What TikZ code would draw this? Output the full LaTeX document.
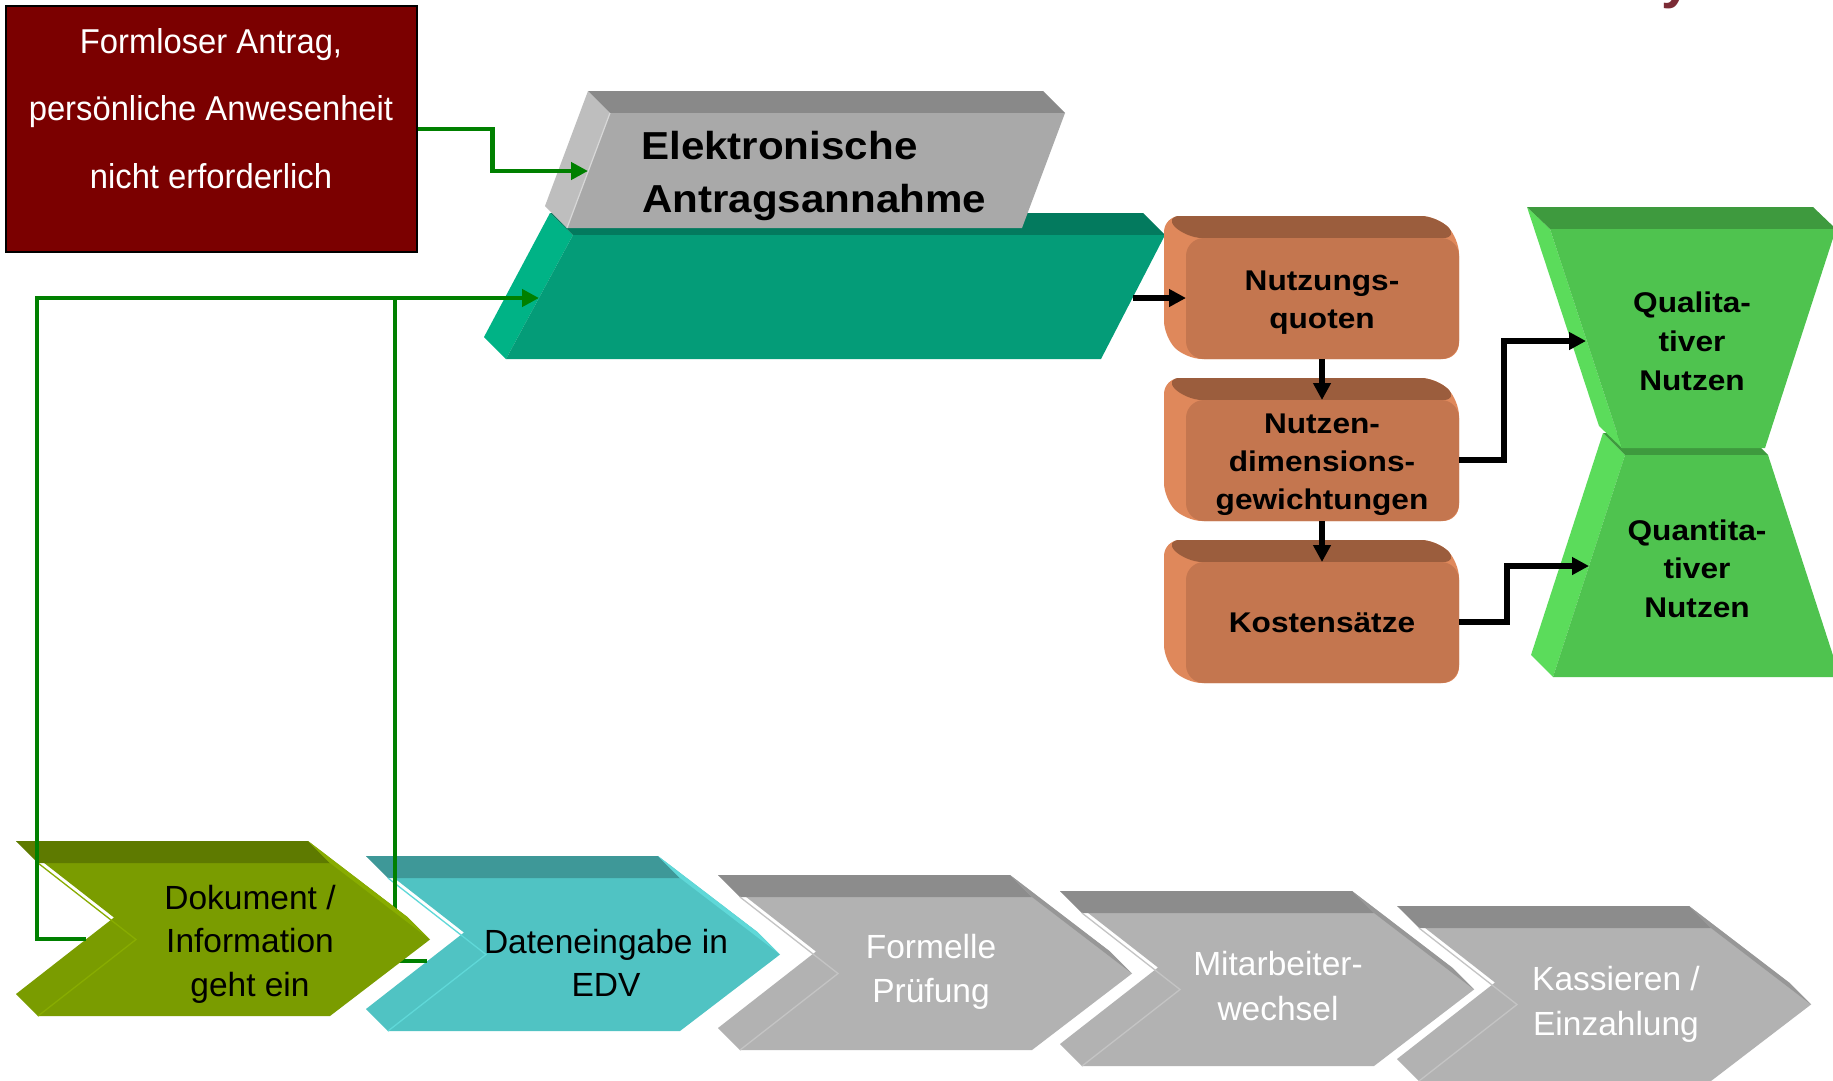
\documentclass[tikz,border=0pt]{standalone}
\usepackage{fontspec}
\setmainfont{Liberation Sans}
\newfontfamily\boxfont[FakeStretch=0.95]{Liberation Sans}
\newfontfamily\headfont[FakeStretch=1.08]{Liberation Sans Bold}
\newfontfamily\cellfont[FakeStretch=1.11]{Liberation Sans Bold}
\newfontfamily\titlefont{Liberation Sans Bold}
\usetikzlibrary{arrows.meta}

\definecolor{boxred}{HTML}{7B0000}
\definecolor{conngreen}{HTML}{008000}
\definecolor{tealtop}{HTML}{037A5E}
\definecolor{tealfront}{HTML}{049C78}
\definecolor{tealside}{HTML}{00B386}
\definecolor{greytop}{HTML}{898989}
\definecolor{greyfront}{HTML}{A9A9A9}
\definecolor{greyside}{HTML}{BEBEBE}
\definecolor{ortop}{HTML}{9B5D3D}
\definecolor{orfront}{HTML}{C4764F}
\definecolor{orside}{HTML}{DF885B}
\definecolor{grtop}{HTML}{3E9A3E}
\definecolor{grfront}{HTML}{4FC34F}
\definecolor{grside}{HTML}{5BDC5B}
\definecolor{olvtop}{HTML}{5E7A00}
\definecolor{olvfront}{HTML}{7A9C00}
\definecolor{olvedge}{HTML}{88AC00}
\definecolor{cyntop}{HTML}{3E9898}
\definecolor{cynfront}{HTML}{50C3C3}
\definecolor{cynedge}{HTML}{5FD8D8}
\definecolor{stptop}{HTML}{8C8C8C}
\definecolor{stpfront}{HTML}{B2B2B2}
\definecolor{stpedge}{HTML}{C4C4C4}
\definecolor{stpslope}{HTML}{979797}
\definecolor{titlered}{HTML}{7B2B35}

% process step chevron: front face top-left corner at (#1,#2);
% colours: top face, front face, notch edge, upper right slope
\newcommand\chevshape[6]{%
  \begin{scope}[shift={(#1,#2)}]
    \fill[#4] (-22,-22) -- (270,-22) -- (370,54.5) -- (392,76.5) -- (292,153)
              -- (0,153) -- (-22,131) -- (76,54.5) -- cycle;
    \fill[#3] (-22,-22) -- (270,-22) -- (292,0) -- (0,0) -- cycle;
    \fill[#6] (270,-22) -- (370,54.5) -- (392,76.5) -- (292,0) -- cycle;
    \draw[#5, line width=1.3pt] (0,0) -- (98,76.5) -- (0,153);
  \end{scope}}

% rounded 3D block: front face top-left corner at (#1,#2)
\newcommand\orblock[2]{%
  \begin{scope}[shift={(#1,#2)}]
    \fill[orside, rounded corners=16pt] (-22,-22) -- (251,-22) -- (273,0) -- (273,121)
              -- (0,121) -- (-22,99) -- cycle;
    \fill[ortop, rounded corners=16pt] (-22,-22) -- (251,-22) -- (273,0) -- (0,0) -- cycle;
    \fill[orfront, rounded corners=18pt] (0,0) rectangle (273,121);
  \end{scope}}

\begin{document}
\begin{tikzpicture}[x=1pt, y=-1pt,
  lbl/.style={inner sep=0pt, anchor=base},
  redtxt/.style={lbl, text=white, font=\boxfont\fontsize{34.5}{40}\selectfont},
  headtxt/.style={inner sep=0pt, anchor=base west, font=\headfont\fontsize{39}{45}\selectfont},
  celltxt/.style={lbl, font=\cellfont\fontsize{28.5}{34}\selectfont},
  chevtxt/.style={lbl, font=\fontsize{33.5}{40}\selectfont},
  stepdark/.style={chevtxt, text=black},
  steplight/.style={chevtxt, text=white},
  gline/.style={draw=conngreen, line width=4.5pt},
  gconn/.style={gline, -{Triangle[length=17pt,width=17pt]}},
  bconn/.style={draw=black, line width=5.5pt, -{Triangle[length=17pt,width=17pt]}}
]
\useasboundingbox (0,0) rectangle (1833,1080);
\fill[white] (0,0) rectangle (1833,1080);

% heading letter running off the top edge
\node[inner sep=0pt, anchor=base west, text=titlered,
      font=\titlefont\fontsize{55}{60}\selectfont] (ttl) at (1661,-3) {y};

% request box
\node[draw=black, line width=2pt, fill=boxred, minimum width=411pt,
      minimum height=246pt, inner sep=0pt] (antrag) at (211,129) {};

% teal slab
\fill[tealside] (550,213) -- (573,235) -- (506,359) -- (484,337) -- cycle;
\fill[tealtop] (550,213) -- (1143,213) -- (1165,235) -- (573,235) -- cycle;
\fill[tealfront] (573,235) -- (1165,235) -- (1101,359) -- (506,359) -- cycle;

% grey slab
\fill[greyside] (588,91) -- (610,113) -- (567,228) -- (545,206) -- cycle;
\fill[greytop] (588,91) -- (1043,91) -- (1065,113) -- (610,113) -- cycle;
\fill[greyfront] (610,113) -- (1065,113) -- (1022,228) -- (567,228) -- cycle;
\draw[greyside!60!white, line width=1.2pt] (567,228) -- (610,113);

% orange blocks
\orblock{1186}{238}
\orblock{1186}{400}
\orblock{1186}{562}

% hourglass
\fill[grside] (1603,433) -- (1625,455) -- (1553,677) -- (1531,655) -- cycle;
\fill[grtop] (1603,433) -- (1746,433) -- (1768,455) -- (1625,455) -- cycle;
\fill[grfront] (1625,455) -- (1768,455) -- (1840,677) -- (1553,677) -- cycle;
\fill[grside] (1527,207) -- (1550,229) -- (1622,448) -- (1599,426) -- cycle;
\fill[grtop] (1527,207) -- (1813,207) -- (1836,229) -- (1550,229) -- cycle;
\fill[grfront] (1550,229) -- (1836,229) -- (1765,448) -- (1622,448) -- cycle;

% connector end points
\coordinate (ea-in) at (588,171);
\coordinate (teal-in) at (539,298);
\coordinate (teal-out) at (1133,298);
\coordinate (junc) at (395,298);
\coordinate (dok-in) at (86,939);
\coordinate (dat-in) at (427,961);
\coordinate (nq-w) at (1186,298);
\coordinate (nq-s) at (1322,359);
\coordinate (nd-n) at (1322,400);
\coordinate (nd-s) at (1322,521);
\coordinate (ks-n) at (1322,562);
\coordinate (nd-e) at (1459,460);
\coordinate (ks-e) at (1459,622);
\coordinate (ql-in) at (1586,341);
\coordinate (qn-in) at (1589,566);

% process chain
\chevshape{388}{878}{cyntop}{cynfront}{cynedge}{cynedge}
\draw[gline] (dat-in) -| (junc);
\chevshape{38}{863}{olvtop}{olvfront}{olvedge}{olvedge}
\draw[gconn] (dok-in) -- ++(-49,0) |- (teal-in);
\chevshape{740}{897}{stptop}{stpfront}{stpedge}{stpslope}
\chevshape{1082}{913}{stptop}{stpfront}{stpedge}{stpslope}
\chevshape{1419}{928}{stptop}{stpfront}{stpedge}{stpslope}

% connectors
\draw[gconn] (antrag.east) -- ++(75,0) |- (ea-in);
\draw[bconn] (teal-out) -- (nq-w);
\draw[bconn] (nq-s) -- (nd-n);
\draw[bconn] (nd-s) -- (ks-n);
\draw[bconn] (nd-e) -- ++(45,0) |- (ql-in);
\draw[bconn] (ks-e) -- ++(48,0) |- (qn-in);

% labels
\node[redtxt] (rt1) at (211,53) {Formloser Antrag,};
\node[redtxt] (rt2) at (211,120) {persönliche Anwesenheit};
\node[redtxt] (rt3) at (211,188) {nicht erforderlich};

\node[headtxt] (ea1) at (641,159) {Elektronische};
\node[headtxt] (ea2) at (642,212) {Antragsannahme};

\node[celltxt] (nq1) at (1322,290) {Nutzungs-};
\node[celltxt] (nq2) at (1322,328) {quoten};
\node[celltxt] (nd1) at (1322,433) {Nutzen-};
\node[celltxt] (nd2) at (1322,471) {dimensions-};
\node[celltxt] (nd3) at (1322,509) {gewichtungen};
\node[celltxt] (ks1) at (1322,632) {Kostensätze};

\node[celltxt] (ql1) at (1692,312) {Qualita-};
\node[celltxt] (ql2) at (1692,351) {tiver};
\node[celltxt] (ql3) at (1692,390) {Nutzen};
\node[celltxt] (qn1) at (1697,540) {Quantita-};
\node[celltxt] (qn2) at (1697,578) {tiver};
\node[celltxt] (qn3) at (1697,617) {Nutzen};

\node[stepdark] (dk1) at (250,909) {Dokument /};
\node[stepdark] (dk2) at (250,952) {Information};
\node[stepdark] (dk3) at (250,996) {geht ein};
\node[stepdark] (de1) at (606,953) {Dateneingabe in};
\node[stepdark] (de2) at (606,996) {EDV};
\node[steplight] (fp1) at (931,958) {Formelle};
\node[steplight] (fp2) at (931,1002) {Prüfung};
\node[steplight] (mw1) at (1278,975) {Mitarbeiter-};
\node[steplight] (mw2) at (1278,1020) {wechsel};
\node[steplight] (ke1) at (1616,990) {Kassieren /};
\node[steplight] (ke2) at (1616,1035) {Einzahlung};
\end{tikzpicture}
\end{document}
